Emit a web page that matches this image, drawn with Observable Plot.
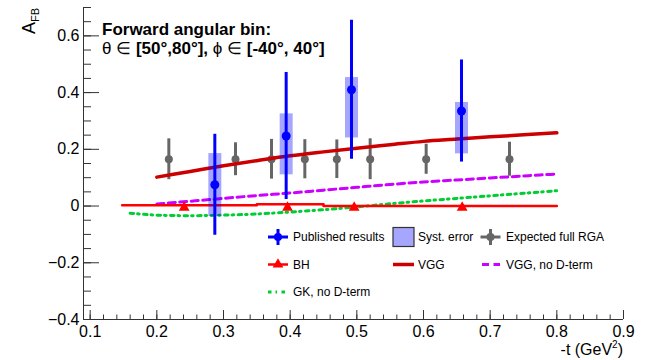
<!DOCTYPE html>
<html><head><meta charset="utf-8">
<script src="https://cdn.jsdelivr.net/npm/d3@7"></script>
<script src="https://cdn.jsdelivr.net/npm/@observablehq/plot@0.6"></script>
<style>body{margin:0;background:#fff} svg{display:block}</style>
</head><body><div id="chart"></div>
<script>
// Published results
const pubT = [0.287, 0.394, 0.492, 0.657];
const pubA = [0.075, 0.247, 0.410, 0.335];
const pubStat = [0.178, 0.224, 0.245, 0.180];
const pubSysLow = [-0.037, 0.110, 0.240, 0.184];
const pubSysHigh = [0.185, 0.325, 0.453, 0.365];
// Expected full RGA
const rgaT = [0.218, 0.318, 0.372, 0.422, 0.470, 0.520, 0.604, 0.729];
const rgaA = [0.165, 0.165, 0.165, 0.165, 0.165, 0.165, 0.165, 0.165];
const rgaErr = [0.072, 0.058, 0.070, 0.069, 0.068, 0.072, 0.053, 0.060];
// BH
const bhT = [0.241, 0.396, 0.496, 0.658];
const bhA = [0, 0, 0, 0];
const bhLineT = [0.148, 0.35, 0.35, 0.45, 0.45, 0.80];
const bhLineA = [0.003, 0.003, 0.006, 0.006, 0.0, 0.0];
// VGG and VGG no D-term
const modelT = [0.20, 0.25, 0.30, 0.35, 0.40, 0.45, 0.50, 0.55, 0.60, 0.65, 0.70, 0.75, 0.80];
const vggA = [0.102, 0.122, 0.142, 0.160, 0.177, 0.191, 0.204, 0.216, 0.228, 0.236, 0.244, 0.251, 0.258];
const vggNoDA = [0.007, 0.017, 0.027, 0.037, 0.046, 0.056, 0.066, 0.076, 0.085, 0.092, 0.099, 0.106, 0.113];
// GK no D-term
const gkT = [0.16, 0.20, 0.25, 0.30, 0.35, 0.40, 0.45, 0.50, 0.55, 0.60, 0.65, 0.70, 0.75, 0.80];
const gkA = [-0.025, -0.032, -0.034, -0.032, -0.028, -0.021, -0.013, -0.003, 0.008, 0.018, 0.027, 0.036, 0.045, 0.054];
// ticks
const xTicks = [0.1, 0.2, 0.3, 0.4, 0.5, 0.6, 0.7, 0.8, 0.9];
const yTicks = [-0.4, -0.2, 0, 0.2, 0.4, 0.6];
const xMinor = d3.range(5, 46).map(i => +(i * 0.02).toFixed(2));
const yMinor = d3.range(-8, 15).map(i => +(i * 0.05).toFixed(2));

const pub = pubT.map((t, i) => ({t, a: pubA[i], lo: pubA[i] - pubStat[i], hi: pubA[i] + pubStat[i], slo: pubSysLow[i], shi: pubSysHigh[i]}));
const rga = rgaT.map((t, i) => ({t, a: rgaA[i], lo: rgaA[i] - rgaErr[i], hi: rgaA[i] + rgaErr[i]}));
const bh = bhT.map((t, i) => ({t, a: bhA[i]}));
const bhLine = bhLineT.map((t, i) => ({t, a: bhLineA[i]}));
const vgg = modelT.map((t, i) => ({t, a: vggA[i]}));
const vggNoD = modelT.map((t, i) => ({t, a: vggNoDA[i]}));
const gk = gkT.map((t, i) => ({t, a: gkA[i]}));

const W = 651, H = 360, mL = 83, mR = 28, mT = 7, mB = 41;
const iW = W - mL - mR, iH = H - mT - mB;
const AX = "#333";
const C = {blue: "#0000ff", gray: "#666666", red: "#ff0000", dred: "#cc0000", mag: "#cc00ff", green: "#00cc33"};
const gkDash = "3.5,4,1.5,4.5";
const fmtY = d => d === 0 ? "0" : (d < 0 ? "\u2212" : "") + Math.abs(d).toFixed(1);

const svg = Plot.plot({
  width: W, height: H,
  marginLeft: mL, marginRight: mR, marginTop: mT, marginBottom: mB,
  style: {fontFamily: "'Liberation Sans', Arial, sans-serif", background: "#fff", color: "#000"},
  x: {domain: [0.09, 0.9]},
  y: {domain: [-0.4, 0.7]},
  marks: [
    Plot.ruleX([0.09], {stroke: AX}),
    Plot.ruleY([-0.4], {stroke: AX}),
    Plot.tickY(yTicks, {y: d => d, insetRight: iW - 16, stroke: AX}),
    Plot.tickY(yMinor, {y: d => d, insetRight: iW - 8, stroke: AX}),
    Plot.tickX(xTicks, {x: d => d, insetTop: iH - 9, stroke: AX}),
    Plot.tickX(xMinor, {x: d => d, insetTop: iH - 4.5, stroke: AX}),
    Plot.axisX(xTicks, {tickSize: 0, tickPadding: 6, fontSize: 16, tickFormat: d => d.toFixed(1), label: null}),
    Plot.axisY(yTicks, {tickSize: 0, tickPadding: 4, fontSize: 16, tickFormat: fmtY, label: null}),
    // expected RGA
    Plot.ruleX(rga, {x: "t", y1: "lo", y2: "hi", stroke: C.gray, strokeWidth: 3}),
    Plot.dot(rga, {x: "t", y: "a", r: 4, fill: C.gray}),
    // models
    Plot.line(gk, {x: "t", y: "a", stroke: C.green, strokeWidth: 3, strokeDasharray: gkDash, curve: "monotone-x"}),
    Plot.line(vggNoD, {x: "t", y: "a", stroke: C.mag, strokeWidth: 3, strokeDasharray: "7,4.5", curve: "monotone-x"}),
    Plot.line(bhLine, {x: "t", y: "a", stroke: C.red, strokeWidth: 2.5}),
    Plot.dot(bh, {x: "t", y: "a", symbol: "triangle", r: 4, fill: C.red, dy: 1.5}),
    Plot.line(vgg, {x: "t", y: "a", stroke: C.dred, strokeWidth: 3.5, curve: "monotone-x"}),
    // published
    Plot.ruleX(pub, {x: "t", y1: "slo", y2: "shi", stroke: C.blue, strokeOpacity: 0.35, strokeWidth: 13}),
    Plot.ruleX(pub, {x: "t", y1: "lo", y2: "hi", stroke: C.blue, strokeWidth: 3}),
    Plot.dot(pub, {x: "t", y: "a", r: 4.5, fill: C.blue})
  ]
});
document.getElementById("chart").appendChild(svg);
const s = d3.select(svg);
const T = s.append("g").attr("text-anchor", "start").attr("fill", "#000");

// y title
const yt = T.append("text").attr("transform", "translate(35,8) rotate(-90)")
  .attr("text-anchor", "end").attr("font-size", 18);
yt.append("tspan").text("A");
yt.append("tspan").attr("font-size", 11).attr("dy", 4).text("FB");
// x title
const xt = T.append("text").attr("x", 623).attr("y", 355).attr("text-anchor", "end").attr("font-size", 16);
xt.append("tspan").text("-t (GeV");
xt.append("tspan").attr("font-size", 10).attr("dy", -7).text("2");
xt.append("tspan").attr("dy", 7).text(")");

// header
T.append("text").attr("x", 102).attr("y", 34.5).attr("font-size", 17).attr("font-weight", "bold")
  .text("Forward angular bin:");
const h2 = T.append("text").attr("x", 102).attr("y", 53.5).attr("font-size", 17);
h2.append("tspan").text("\u03b8 \u2208 ");
h2.append("tspan").attr("font-weight", "bold").text("[50\u00b0,80\u00b0], ");
h2.append("tspan").text("\u03d5 \u2208 ");
h2.append("tspan").attr("font-weight", "bold").text("[-40\u00b0, 40\u00b0]");

// legend
const L = T.append("g").attr("font-size", 12);
const r1 = 237, r2 = 264.5, r3 = 292;
function cross(cx, cy, col) {
  L.append("line").attr("x1", cx - 10).attr("x2", cx + 10).attr("y1", cy).attr("y2", cy).attr("stroke", col).attr("stroke-width", 3);
  L.append("line").attr("x1", cx).attr("x2", cx).attr("y1", cy - 8).attr("y2", cy + 8).attr("stroke", col).attr("stroke-width", 3);
  L.append("circle").attr("cx", cx).attr("cy", cy).attr("r", 4).attr("fill", col);
}
function label(x, y, t) { L.append("text").attr("x", x).attr("y", y).attr("dy", "0.35em").text(t); }
cross(278, r1, C.blue); label(293, r1, "Published results");
L.append("rect").attr("x", 393).attr("y", 227.5).attr("width", 21).attr("height", 19)
  .attr("fill", "#a6a6ff").attr("stroke", "#333").attr("stroke-width", 1.2);
label(418, r1, "Syst. error");
cross(490.5, r1, C.gray); label(506, r1, "Expected full RGA");
L.append("line").attr("x1", 268).attr("x2", 288).attr("y1", r2).attr("y2", r2).attr("stroke", C.red).attr("stroke-width", 2.5);
L.append("path").attr("transform", `translate(278,${r2})`).attr("d", d3.symbol(d3.symbolTriangle, 50)()).attr("fill", C.red);
label(293, r2, "BH");
L.append("line").attr("x1", 393).attr("x2", 414).attr("y1", r2).attr("y2", r2).attr("stroke", C.dred).attr("stroke-width", 3.5);
label(418, r2, "VGG");
L.append("line").attr("x1", 482).attr("x2", 500).attr("y1", r2).attr("y2", r2).attr("stroke", C.mag).attr("stroke-width", 3).attr("stroke-dasharray", "7,4.5");
label(506, r2, "VGG, no D-term");
L.append("line").attr("x1", 268).attr("x2", 287).attr("y1", r3).attr("y2", r3).attr("stroke", C.green).attr("stroke-width", 3).attr("stroke-dasharray", gkDash);
label(293, r3, "GK, no D-term");
</script></body></html>
